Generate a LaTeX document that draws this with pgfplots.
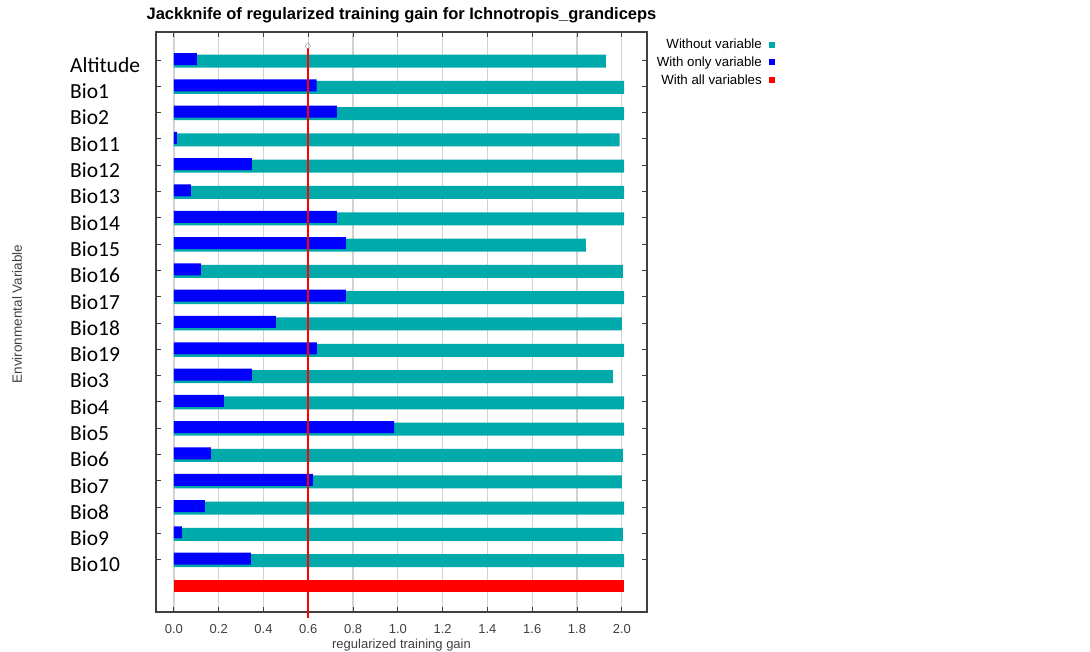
\documentclass[border=0pt]{standalone}
\usepackage{pgfplots}
\pgfplotsset{compat=1.18}
\usepackage{fontspec}
\setmainfont{Liberation Sans}
\newfontfamily\carlito{Carlito}
\definecolor{tealbar}{HTML}{00AAAA}
\definecolor{bluebar}{HTML}{0000FF}
\definecolor{redbar}{HTML}{FF0000}
\definecolor{axisgray}{HTML}{404040}
\begin{document}
\begin{tikzpicture}[x=1pt,y=1pt]
\path[use as bounding box] (0,0) rectangle (1090,652);
\begin{axis}[
  at={(156pt,40pt)}, anchor=south west,
  scale only axis, width=491pt, height=580pt,
  xmin=-0.08, xmax=2.1125,
  ymin=-1.065, ymax=20.99,
  y dir=reverse,
  clip=false,
  axis line style={axisgray, line width=1.1pt},
  xtick={0,0.2,...,2.01},
  ytick={0,...,19},
  yticklabels={Altitude,Bio1,Bio2,Bio11,Bio12,Bio13,Bio14,Bio15,Bio16,Bio17,Bio18,Bio19,Bio3,Bio4,Bio5,Bio6,Bio7,Bio8,Bio9,Bio10},
  major tick length=5pt,
  tick style={axisgray, line width=0.9pt},
  xmajorgrids,
  grid style={gray!35, line width=1.2pt},
  /pgf/number format/assume math mode=true,
  xticklabel={\pgfmathprintnumber[fixed, fixed zerofill, precision=1]{\tick}},
  xticklabel style={font=\fontsize{13}{15}\selectfont, text=axisgray, yshift=-9pt},
  yticklabel style={font=\carlito\fontsize{21.5}{24}\selectfont, anchor=west, xshift=-86pt, inner sep=0pt, yshift=-5pt, text=black},
  xlabel={regularized training gain},
  xlabel style={font=\fontsize{13}{15}\selectfont, text=axisgray, at={(axis description cs:0.5,0)}, anchor=north, yshift=-27pt, inner sep=0pt},
  title={Jackknife of regularized training gain for Ichnotropis\_grandiceps},
  title style={font=\bfseries\fontsize{16.5}{18}\selectfont, at={(axis description cs:0.5,1)}, anchor=south, yshift=3pt, inner sep=0pt},
  legend style={at={(1.2607,0.9896)}, anchor=north east, draw=none, fill=none, inner sep=0pt, font=\fontsize{13.3}{15}\selectfont, row sep=4.5pt, nodes={inner sep=1pt}},
  legend plot pos=right,
  legend cell align=right,
]
\addplot[xbar, bar width=13pt, bar shift=-1pt, fill=tealbar, draw=none,
  legend image code/.code={\path (0pt,0pt); \fill[tealbar] (6pt,-3pt) rectangle (12pt,3pt);}]
 coordinates {
 (1.929,0) (2.01,1) (2.01,2) (1.99,3) (2.01,4) (2.01,5) (2.01,6) (1.84,7) (2.005,8) (2.01,9)
 (2.0,10) (2.01,11) (1.96,12) (2.01,13) (2.01,14) (2.005,15) (2.0,16) (2.01,17) (2.005,18) (2.01,19)};
\addlegendentry{Without variable}
\addplot[xbar, bar width=12pt, bar shift=1pt, fill=bluebar, draw=none,
  legend image code/.code={\path (0pt,0pt); \fill[bluebar] (6pt,-3pt) rectangle (12pt,3pt);}]
 coordinates {
 (0.103,0) (0.637,1) (0.728,2) (0.013,3) (0.348,4) (0.076,5) (0.728,6) (0.768,7) (0.12,8) (0.768,9)
 (0.455,10) (0.638,11) (0.348,12) (0.223,13) (0.983,14) (0.165,15) (0.62,16) (0.138,17) (0.035,18) (0.344,19)};
\addlegendentry{With only variable}
\addplot[xbar, bar width=12pt, bar shift=0pt, fill=redbar, draw=none,
  legend image code/.code={\path (0pt,0pt); \fill[redbar] (6pt,-3pt) rectangle (12pt,3pt);}]
 coordinates {(2.01,20)};
\addlegendentry{With all variables}
\addplot[draw=redbar, fill=none, solid, no marks, line width=1.4pt, opacity=1, forget plot] coordinates {(0.598,-0.45) (0.598,21.2)};
\addplot[only marks, mark=o, mark size=2.5pt, draw=gray, fill=white, forget plot] coordinates {(0.598,-0.53)};
\end{axis}
\node[rotate=90, font=\fontsize{13.5}{15}\selectfont, text=axisgray, inner sep=0pt] at (17,338) {Environmental Variable};
\end{tikzpicture}
\end{document}
